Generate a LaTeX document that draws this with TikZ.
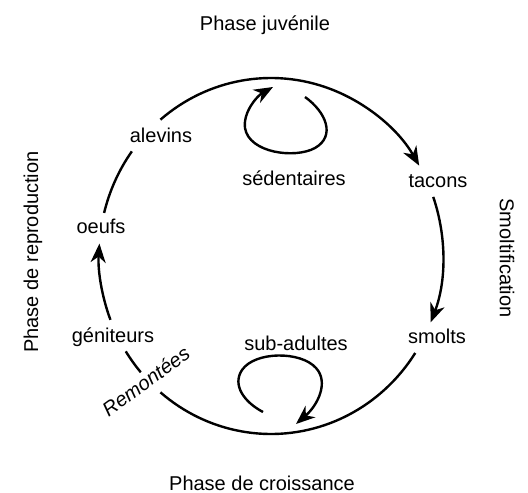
\documentclass[tikz,border=0pt]{standalone}
\usepackage{fontspec}
\setmainfont{Liberation Sans}
\usetikzlibrary{arrows.meta}
\begin{document}
\begin{tikzpicture}[x=1pt,y=-1pt,
  lbl/.style={font=\fontsize{20}{24}\selectfont, anchor=base, inner sep=0pt},
  cyc/.style={line width=2.4pt},
  tip/.style={-{Stealth[length=19pt,width=15pt,inset=6pt]}},
  ell/.style={x radius=172, y radius=178}
]
\useasboundingbox (0,0) rectangle (528,493);
\coordinate (c) at (271,256);
% labels
\node[lbl] (juv) at (265,30) {Phase juvénile};
\node[lbl] (cro) at (262,490) {Phase de croissance};
\node[lbl,anchor=center,rotate=90] (rep) at (33,252) {Phase de reproduction};
\node[lbl,anchor=center,rotate=-90] (smo) at (507,258) {Smoltification};
\node[lbl] (alevins) at (161,142) {alevins};
\node[lbl] (sed) at (294,185) {sédentaires};
\node[lbl] (tacons) at (438,187) {tacons};
\node[lbl] (smolts) at (437,343) {smolts};
\node[lbl] (oeufs) at (101,233) {oeufs};
\node[lbl] (gen) at (113,342) {géniteurs};
\node[lbl] (sub) at (296,350) {sub-adultes};
\node[lbl,rotate=36,font=\fontsize{20}{24}\selectfont\itshape] (rem) at (150,387) {Remontées};
% points on the cycle
\path (c) ++(-130:172 and 178) coordinate (a1);
\path (c) ++(-144:172 and 178) coordinate (a2);
\path (c) ++(159:172 and 178) coordinate (a3);
\path (c) ++(147.6:172 and 178) coordinate (a4);
\path (c) ++(130:172 and 178) coordinate (a5);
\path (c) ++(-19.4:172 and 178) coordinate (a6);
% cycle arcs
\draw[cyc,tip] (a1) arc[start angle=-130, end angle=-30.5, ell];
\draw[cyc] (a2) arc[start angle=-144, end angle=-166, ell];
\draw[cyc,tip] (a3) arc[start angle=159, end angle=184, ell];
\draw[cyc] (a4) arc[start angle=147.6, end angle=139.2, ell];
\draw[cyc] (a5) arc[start angle=130, end angle=33, ell];
\draw[cyc,tip] (a6) arc[start angle=-19.4, end angle=21.9, ell];
% self loops
\coordinate (s0) at (305,97);
\coordinate (s3) at (273,87);
\draw[cyc,tip] (s0) .. controls (326,112) and (336,136) .. (315,148)
  .. controls (295,159) and (249,153) .. (245,128)
  .. controls (243,112) and (257,96) .. (s3);
\coordinate (u0) at (263,412);
\coordinate (u3) at (296,424);
\draw[cyc,tip] (u0) .. controls (244,402) and (232,385) .. (242,370)
  .. controls (255,351) and (301,351) .. (316,368)
  .. controls (329,382) and (318,405) .. (u3);
\end{tikzpicture}
\end{document}
